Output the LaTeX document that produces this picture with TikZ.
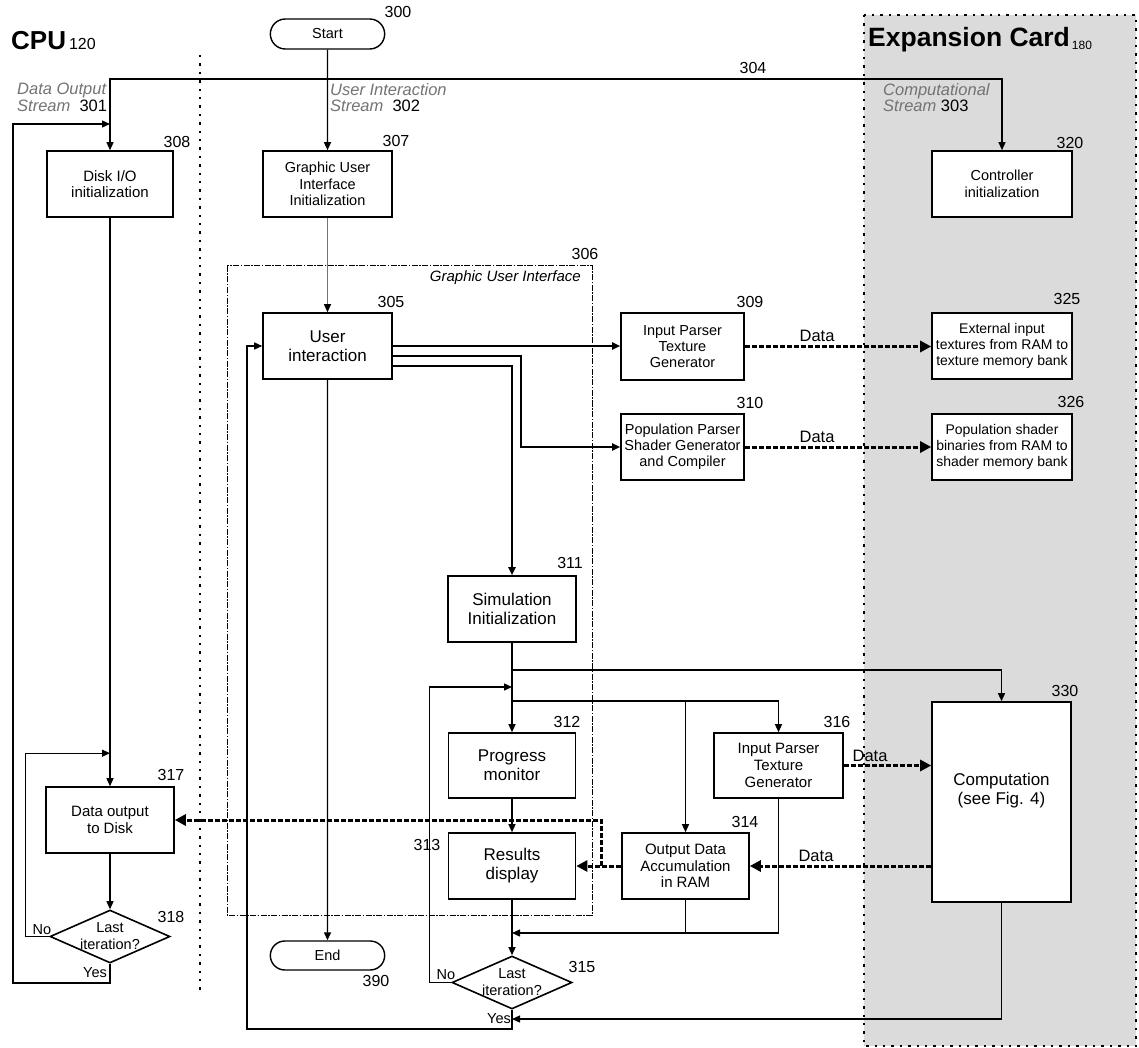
\documentclass[tikz,border=0pt]{standalone}
\usepackage{fontspec}
\setmainfont{Liberation Sans}
\usetikzlibrary{arrows.meta,shapes.geometric,shapes.misc}
\newcommand{\fsize}[2]{\fontsize{#1}{#2}\selectfont}
\newcommand{\stm}[1]{\textcolor{black!55}{\itshape #1}}

\begin{document}
\begin{tikzpicture}[
  x=1pt, y=-1pt,
  box/.style={draw, line width=1.6pt, fill=white, align=center, inner sep=1pt,
    minimum width=128pt, minimum height=66pt, font=\fsize{15}{16.7}},
  bigbox/.style={box, font=\fsize{17}{19}},
  term/.style={draw, line width=1.4pt, rounded rectangle, fill=white,
    minimum width=121pt, minimum height=30pt, font=\fsize{14.5}{16}},
  decide/.style={draw, line width=1.6pt, diamond, fill=white, inner sep=0pt,
    minimum width=120pt, minimum height=53pt},
  ask/.style={align=center, font=\fsize{14.5}{17}},
  num/.style={font=\fsize{16}{18}, inner sep=0pt},
  small/.style={font=\fsize{14.5}{16}, inner sep=0pt},
  datalbl/.style={font=\fsize{16.5}{18}, inner sep=0pt},
  stream/.style={font=\fsize{16.5}{16.5}, align=left, inner sep=0pt, anchor=north west},
  flow/.style={line width=1.3pt, -{Triangle[length=8pt,width=7pt]}},
  wide/.style={flow, line width=1.8pt},
  wire/.style={line width=1.3pt},
  data/.style={line width=3pt, dash pattern=on 5pt off 2pt, -{Triangle[length=11pt,width=11pt]}},
  sep/.style={line width=2.4pt, dash pattern=on 2.4pt off 6pt},
  guibox/.style={line width=1pt, dash pattern=on 6pt off 1.5pt on 1.5pt off 1.5pt},
]
\useasboundingbox (0,0) rectangle (1139,1048);

% expansion card area
\fill[black!14] (864,15) rectangle (1136,1046);
\draw[sep] (864,15) rectangle (1136,1046);
\draw[sep] (200,55) -- (200,995);

\node[anchor=base west, inner sep=0pt] (cpu) at (11,50)
  {\fsize{26}{26}\bfseries CPU\kern3pt{\fsize{16}{16}\mdseries 120}};
\node[anchor=base west, inner sep=0pt] (card) at (868,47)
  {\fsize{26.5}{26}\bfseries Expansion Card\kern2pt{\fsize{12}{12}\mdseries\raisebox{-3pt}{180}}};

% graphic user interface
\draw[guibox] (227,266) rectangle (592,915);
\node[font=\fsize{15}{17}\itshape, anchor=east, inner sep=0pt] (guilbl) at (581,278) {Graphic User Interface};
\node[num] (n306) at (585,254) {306};

\node[stream] (s301) at (17,83) {\stm{Data Output}\\\stm{Stream}\ \ 301};
\node[stream] (s302) at (330,83) {\stm{User Interaction}\\\stm{Stream}\ \ 302};
\node[stream] (s303) at (883,83) {\stm{Computational}\\\stm{Stream}\ 303};
\node[num] (n304) at (753,68) {304};

\node[term] (start) at (327.5,34) {Start};
\node[num] (n300) at (398,12) {300};

\node[box, minimum width=126pt] (io) at (110,184) {Disk I/O\\initialization};
\node[num] (n308) at (177,142) {308};
\node[box, minimum width=129pt, font=\fsize{14.5}{16.7}] (guiinit) at (327.5,184) {Graphic User\\Interface\\Initialization};
\node[num] (n307) at (396,141) {307};
\node[box, minimum width=140pt, font=\fsize{14.5}{16.7}] (ctrl) at (1002,184) {Controller\\initialization};
\node[num] (n320) at (1070,143) {320};

\node[bigbox, minimum width=129pt] (ui) at (327.5,346) {User\\interaction};
\node[num] (n305) at (391,302) {305};
\node[box, minimum width=123pt, minimum height=67pt, font=\fsize{14.5}{16}] (p309) at (682.5,346.5) {Input Parser\\Texture\\Generator};
\node[num] (n309) at (750,302) {309};
\node[box, minimum width=123pt, font=\fsize{14.5}{16}] (p310) at (682.5,447) {Population Parser\\Shader Generator\\and Compiler};
\node[num] (n310) at (750,403) {310};
\node[box, minimum width=140pt, font=\fsize{14}{16}] (ext325) at (1002,346) {External input\\textures from RAM to\\texture memory bank};
\node[num] (n325) at (1067,299) {325};
\node[box, minimum width=140pt, font=\fsize{14}{16}] (pop326) at (1002,447) {Population shader\\binaries from RAM to\\shader memory bank};
\node[num] (n326) at (1071,402) {326};

\node[bigbox] (sim) at (512,609) {Simulation\\Initialization};
\node[num] (n311) at (570,563) {311};
\node[bigbox, minimum width=127pt, minimum height=65pt] (prog) at (512,765.5) {Progress\\monitor};
\node[num] (n312) at (567,722) {312};
\node[bigbox, minimum width=127pt] (res) at (512,866) {Results\\display};
\node[num] (n313) at (427,845) {313};
\node[box, minimum width=129pt, minimum height=65pt] (p316) at (778.5,765.5) {Input Parser\\Texture\\Generator};
\node[num] (n316) at (837,722) {316};
\node[box, minimum width=127pt] (acc) at (685.5,866) {Output Data\\Accumulation\\in RAM};
\node[num] (n314) at (745,822) {314};
\node[bigbox, minimum width=139pt, minimum height=200pt] (comp) at (1001.5,802) {Computation\\(see Fig. 4)\\[8pt]};
\node[num] (n330) at (1065,691) {330};

\node[decide, label={[ask]center:{Last\\iteration?}}] (d315) at (512,982.5) {};
\node[num] (n315) at (582,967) {315};
\node[small] (no315) at (446,975) {No};
\node[small] (yes315) at (499,1019) {Yes};
\node[term, minimum height=29pt] (finish) at (327.5,955.5) {End};
\node[num] (n390) at (376,981) {390};

\node[box] (out) at (110,820) {Data output\\to Disk};
\node[num] (n317) at (171,775) {317};
\node[decide, label={[ask]center:{Last\\iteration?}}] (d318) at (110,936.5) {};
\node[num] (n318) at (171,917) {318};
\node[small] (no318) at (42,930) {No};
\node[small] (yes318) at (95,973) {Yes};

\foreach \p/\t in {(817,336)/d1, (817,437)/d2, (870,756)/d3, (816,856)/d4}
  \node[datalbl] (\t) at \p {Data};

% start and the three streams
\coordinate (top) at (327.5,79);
\draw[flow] (start) -- (guiinit);
\draw[flow] (top) -| (io.north);
\draw[flow] (top) -| (ctrl.north);
\draw[line width=1pt, draw=black!55, -{Triangle[length=8pt,width=7pt,color=black]}] (guiinit) -- (ui);

% user interaction
\draw[wide] (ui.east) -- (ui.east -| p309.west);
\draw[wide] ([yshift=-10pt]ui.east) -| ([xshift=-99pt]p310.west) -- (p310.west);
\draw[wide] ([yshift=-20pt]ui.east) -| (sim.north);
\draw[flow] (ui) -- (finish);
\coordinate (loopUI) at (247,1029);
\draw[flow] (d315.south) |- (loopUI) |- (ui.west);

% simulation loop
\coordinate (fork) at (512,670);
\coordinate (back) at (512,687);
\coordinate (split) at (512,701);
\coordinate (merge) at (512,933);
\coordinate (ret) at (512,1019);
\draw[flow] (sim) -- (prog);
\draw[flow] (fork) -| (comp.north);
\draw[flow] (split) -| (p316.north);
\draw[flow] (split -| acc.north) -- (acc.north);
\draw[flow] (d315.west) -- ++(-22,0) |- (back);
\draw[flow] (prog) -- (res);
\draw[flow] (res) -- (d315);
\draw[flow] (p316.south) |- (merge);
\draw[wire] (acc.south) -- (acc.south |- merge);
\draw[flow] (comp.south) |- (ret);

% data transfers
\draw[data] (p309.east) -- (p309.east -| ext325.west);
\draw[data] (p310.east) -- (p310.east -| pop326.west);
\draw[data] (p316.east) -- (p316.east -| comp.west);
\draw[data] (acc.east -| comp.west) -- (acc.east);
\draw[data] (acc.west) -- (res.east);
\draw[data] ([xshift=-20pt]acc.west) |- (out.east);

% disk output loop
\coordinate (ioin) at (110,124);
\coordinate (loopIO) at (13,983);
\draw[flow] (io) -- (out);
\draw[flow] (out) -- (d318);
\draw[flow] (d318.west) -- ++(-24,0) |- ([yshift=33pt]out.north);
\draw[flow] (d318.south) |- (loopIO) |- (ioin);
\end{tikzpicture}
\end{document}
